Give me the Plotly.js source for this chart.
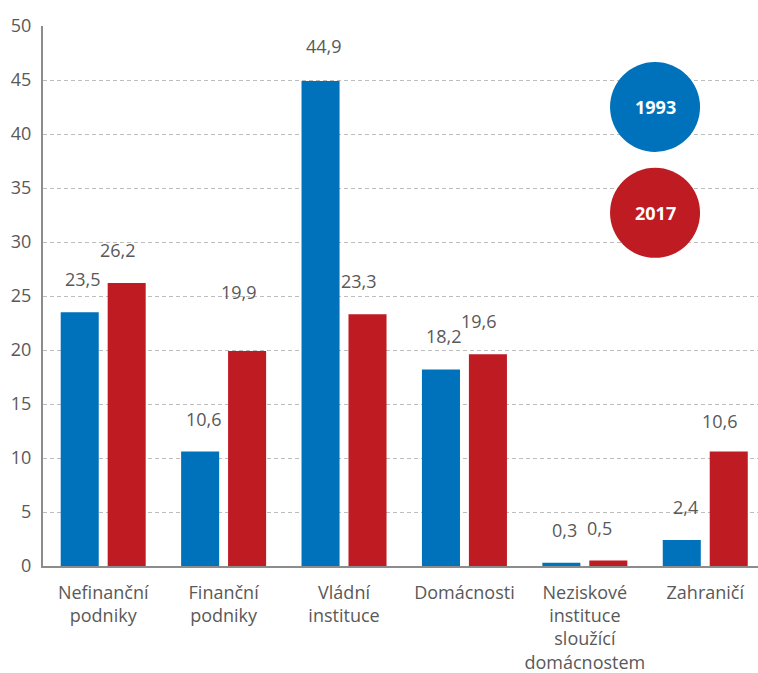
<!DOCTYPE html>
<html>
<head>
<meta charset="utf-8">
<script src="https://cdn.plot.ly/plotly-3.0.1.min.js"></script>
<style>html,body{margin:0;padding:0;background:#fff;}#chart{width:758px;height:673px;}</style>
</head>
<body>
<div id="chart"></div>
<script>
var categories = ['Nefinanční<br>podniky', 'Finanční<br>podniky', 'Vládní<br>instituce', 'Domácnosti', 'Neziskové<br>instituce<br>sloužící<br>domácnostem', 'Zahraničí'];
var seriesNames = ['1993', '2017'];
var values1993 = [23.5, 10.6, 44.9, 18.2, 0.3, 2.4];
var values2017 = [26.2, 19.9, 23.3, 19.6, 0.5, 10.6];
var yTicks = [0, 5, 10, 15, 20, 25, 30, 35, 40, 45, 50];

var colors = ['#0071bb', '#be1b22'];
var textColor = '#595959';
var font = 'Open Sans, Noto Sans, sans-serif';

var traces = [values1993, values2017].map(function (vals, i) {
  return {
    type: 'bar', name: seriesNames[i], x: categories, y: vals,
    marker: {color: colors[i]}, hoverinfo: 'none'
  };
});

// label placement styling (pixel shifts relative to bar top)
var labelXShift = [4 - 24, -8 + 23];
var labelExtraLift = [[0, 0, 2, 0, 0, 0], [0, 26, 0, 0, 0, -2]];
var annotations = [];
[values1993, values2017].forEach(function (vals, i) {
  vals.forEach(function (v, j) {
    annotations.push({
      x: categories[j], y: v, xref: 'x', yref: 'y',
      xanchor: 'center', yanchor: 'middle',
      text: v.toFixed(1).replace('.', ','), showarrow: false,
      xshift: labelXShift[i], yshift: 33 + labelExtraLift[i][j],
      font: {family: font, size: 18, color: textColor}
    });
  });
});

// legend circles
var legendY = [0.85, 0.654];
var shapes = [];
seriesNames.forEach(function (name, i) {
  shapes.push({
    type: 'circle', xref: 'paper', yref: 'paper',
    xsizemode: 'pixel', ysizemode: 'pixel',
    xanchor: 0.856, yanchor: legendY[i],
    x0: -45, x1: 45, y0: -45, y1: 45,
    fillcolor: colors[i], line: {width: 0}
  });
  annotations.push({
    x: 0.856, y: legendY[i], xref: 'paper', yref: 'paper',
    xanchor: 'center', yanchor: 'middle',
    text: '<b>' + name + '</b>', showarrow: false,
    font: {family: font, size: 18, color: '#ffffff'}
  });
});

var layout = {
  width: 758, height: 673,
  margin: {l: 43, r: 0, t: 26, b: 107},
  paper_bgcolor: '#ffffff', plot_bgcolor: '#ffffff',
  showlegend: false,
  barmode: 'group', bargap: 0.22, bargroupgap: 0.19,
  font: {family: font, size: 18, color: textColor},
  xaxis: {
    type: 'category', range: [-0.5, 5.438],
    showgrid: false, showline: true, linecolor: '#8c8c8c', linewidth: 2,
    ticks: '', ticklabelstandoff: 9,
    tickfont: {family: font, size: 18, color: textColor}
  },
  yaxis: {
    range: [0, 50], tickvals: yTicks, ticktext: yTicks.map(String),
    showgrid: true, gridcolor: '#bdbdbd', gridwidth: 1, griddash: '4px,3px',
    zeroline: false, showline: true, linecolor: '#8c8c8c', linewidth: 2,
    ticks: '', ticklabelstandoff: 6,
    tickfont: {family: font, size: 18, color: textColor}
  },
  shapes: shapes,
  annotations: annotations
};

Plotly.newPlot('chart', traces, layout, {displayModeBar: false, staticPlot: true});
</script>
</body>
</html>
